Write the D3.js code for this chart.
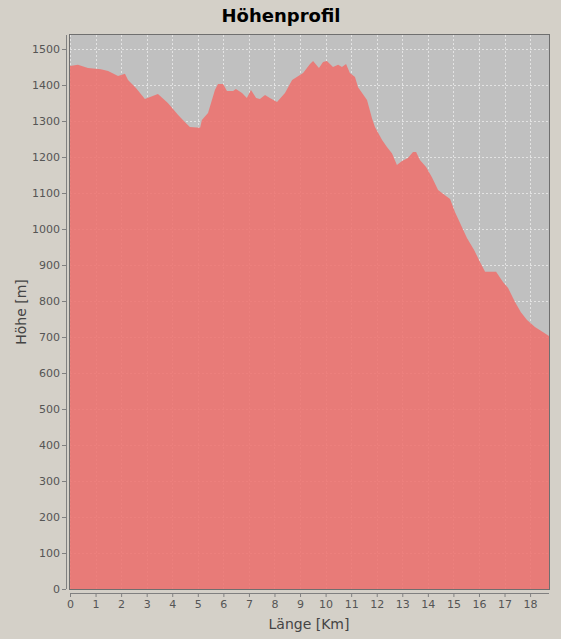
<!DOCTYPE html>
<html><head><meta charset="utf-8">
<script src="https://cdn.jsdelivr.net/npm/d3@7"></script>
<style>
body{margin:0;background:#d4d0c8;}
svg{display:block;font-family:"DejaVu Sans",sans-serif;}
</style></head>
<body><svg id="c" width="561" height="639"></svg>
<script>
const distanceKm = [0.00,0.31,0.70,1.21,1.49,1.88,2.15,2.27,2.58,2.93,3.44,3.83,4.23,4.54,4.69,5.09,5.16,5.40,5.67,5.79,5.99,6.14,6.38,6.49,6.73,6.92,7.08,7.28,7.43,7.63,7.82,8.10,8.41,8.69,9.12,9.39,9.51,9.74,9.90,10.05,10.29,10.49,10.64,10.80,10.95,11.15,11.27,11.62,11.82,11.93,12.21,12.40,12.60,12.79,12.99,13.22,13.42,13.54,13.69,13.93,14.16,14.40,14.67,14.87,15.06,15.26,15.53,15.81,16.04,16.24,16.67,16.94,17.14,17.41,17.64,17.88,18.19,18.39,18.74];
const elevationM = [1453,1456,1447,1444,1439,1425,1431,1414,1392,1361,1375,1350,1317,1294,1283,1281,1303,1322,1386,1403,1403,1383,1383,1389,1378,1364,1386,1364,1361,1372,1364,1353,1378,1414,1433,1458,1467,1447,1464,1467,1450,1456,1450,1458,1433,1422,1394,1358,1306,1283,1247,1228,1210,1178,1189,1197,1214,1214,1192,1172,1144,1108,1094,1083,1047,1017,975,942,908,881,881,853,836,797,769,747,728,719,703];
const xTicks = [0,1,2,3,4,5,6,7,8,9,10,11,12,13,14,15,16,17,18];
const yTicks = [0,100,200,300,400,500,600,700,800,900,1000,1100,1200,1300,1400,1500];
const title = "Höhenprofil", xLabel = "Länge [Km]", yLabel = "Höhe [m]";

const data = distanceKm.map((d,i)=>({x:d,y:elevationM[i]}));
const svg = d3.select("#c");
const L=70,R=549,T=35,B=589;
const x = d3.scaleLinear().domain([0,18.74]).range([L,R]);
const y = d3.scaleLinear().domain([0,1500]).range([B,49]);

svg.append("text").attr("x",281).attr("y",22).attr("text-anchor","middle")
  .attr("font-size",18).attr("font-weight","bold").attr("fill","#000").text(title);

svg.append("rect").attr("x",L).attr("y",T).attr("width",R-L).attr("height",B-T).attr("fill","#c0c0c0");

const grid = svg.append("g").attr("stroke","#ffffff").attr("stroke-opacity",0.55).attr("stroke-width",1).attr("stroke-dasharray","2,2");
xTicks.forEach(t=>grid.append("line").attr("x1",Math.round(x(t))+0.5).attr("x2",Math.round(x(t))+0.5).attr("y1",T).attr("y2",B));
yTicks.forEach(t=>grid.append("line").attr("y1",Math.round(y(t))+0.5).attr("y2",Math.round(y(t))+0.5).attr("x1",L).attr("x2",R));

const area = d3.area().x(d=>x(d.x)).y0(y(0)).y1(d=>y(d.y)).curve(d3.curveStepAfter);
svg.append("path").datum(data).attr("d",d3.area().x(d=>x(d.x)).y0(y(0)).y1(d=>y(d.y))).attr("fill","rgb(239,110,107)").attr("fill-opacity",0.85);

svg.append("rect").attr("x",L-0.5).attr("y",T-0.5).attr("width",R-L+1).attr("height",B-T+1).attr("fill","none").attr("stroke","#6f6f6f");

// y axis
const ya = svg.append("g").attr("transform","translate(66,0)").call(d3.axisLeft(y).tickValues(yTicks).tickSize(4).tickPadding(2).tickFormat(d3.format("d")));
ya.select(".domain").attr("d",`M0.5,${T}V${B}`).attr("stroke","#808080");
ya.selectAll(".tick line").attr("stroke","#808080");
ya.selectAll("text").attr("font-size",11).attr("fill","#555").attr("font-family","DejaVu Sans");

// x axis
const xa = svg.append("g").attr("transform","translate(0,593)").call(d3.axisBottom(x).tickValues(xTicks).tickSize(4).tickPadding(3).tickFormat(d3.format("d")));
xa.select(".domain").attr("d",`M${L},0.5H${R}`).attr("stroke","#808080");
xa.selectAll(".tick line").attr("stroke","#808080");
xa.selectAll("text").attr("font-size",11).attr("fill","#555").attr("font-family","DejaVu Sans");

svg.append("text").attr("x",309).attr("y",629).attr("text-anchor","middle").attr("font-size",14).attr("fill","#444").text(xLabel);
svg.append("text").attr("transform","translate(26,312) rotate(-90)").attr("text-anchor","middle").attr("font-size",14).attr("fill","#444").text(yLabel);
</script></body></html>
